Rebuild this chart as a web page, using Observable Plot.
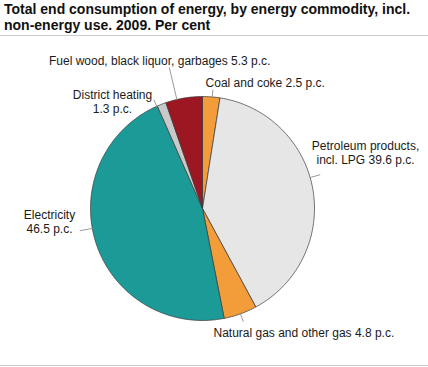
<!DOCTYPE html>
<html>
<head>
<meta charset="utf-8">
<script src="https://cdn.jsdelivr.net/npm/d3@7"></script>
<script src="https://cdn.jsdelivr.net/npm/@observablehq/plot@0.6"></script>
<style>
  body { margin: 0; background: #fff; }
  #wrap { width: 428px; }
  #title { font: bold 14px "Liberation Sans", Arial, sans-serif; line-height: 16px; color: #111;
           padding: 1px 0 2px 4px; height: 32px; border-bottom: 1px solid #ccc; }
  #chart svg { display: block; }
  #foot { border-top: 1px solid #ccc; width: 428px; }
</style>
</head>
<body>
<div id="wrap">
  <div id="title">Total end consumption of energy, by energy commodity, incl.<br>non-energy use. 2009. Per cent</div>
  <div id="chart"></div>
  <div id="foot"></div>
</div>
<script>
// ---- data ----
const categories = ["Coal and coke", "Petroleum products, incl. LPG", "Natural gas and other gas", "Electricity", "District heating", "Fuel wood, black liquor, garbages"];
const values = [2.5, 39.6, 4.8, 46.5, 1.3, 5.3];
const labelTexts = ["Coal and coke 2.5 p.c.", "Petroleum products,\nincl. LPG 39.6 p.c.", "Natural gas and other gas 4.8 p.c.", "Electricity\n46.5 p.c.", "District heating\n1.3 p.c.", "Fuel wood, black liquor, garbages 5.3 p.c."];

// ---- style / layout ----
const colors = ["#f39c3a", "#e6e6e6", "#f39c3a", "#1b9a98", "#c9c9c9", "#9c1722"];
// per label: angle nudge (deg), leader outer radius, text anchor, dx, dy
const labelLayout = [
  {nudge: 0.5, r: 1.06, anchor: "start", dx: -7.3, dy: -7.6},
  {nudge: -6.3, r: 1.09, anchor: "middle", dx: 45.7, dy: -22.7},
  {nudge: 0, r: 1.07, anchor: "start", dx: -29.6, dy: 11.5},
  {nudge: 7.2, r: 1.11, anchor: "middle", dx: -30.7, dy: -9.5},
  {nudge: -2.7, r: 1.06, anchor: "middle", dx: -41.5, dy: 1.1},
  {nudge: -3.7, r: 1.29, anchor: "middle", dx: -9.7, dy: -7.6}
];

// ---- geometry from values ----
const total = d3.sum(values);
const toRad = d => d * Math.PI / 180;
const slices = [];
const leaders = [];
const labels = [];
let acc = 0;
categories.forEach((name, i) => {
  const a0 = acc / total * 360;
  acc += values[i];
  const a1 = acc / total * 360;
  const n = Math.max(2, Math.ceil((a1 - a0) / 1));
  slices.push({name, x: 0, y: 0});
  for (let k = 0; k <= n; k++) {
    const a = toRad(a0 + (a1 - a0) * k / n);
    slices.push({name, x: Math.sin(a), y: Math.cos(a)});
  }
  slices.push({name, x: 0, y: 0});
  const L = labelLayout[i];
  const am = toRad((a0 + a1) / 2 + L.nudge);
  leaders.push({id: i, x: Math.sin(am), y: Math.cos(am)});
  leaders.push({id: i, x: L.r * Math.sin(am), y: L.r * Math.cos(am)});
  labels.push({text: labelTexts[i], x: L.r * Math.sin(am), y: L.r * Math.cos(am), ...L});
});

const textMarks = labels.map(l => Plot.text([l], {
  x: "x", y: "y", text: "text", textAnchor: l.anchor, dx: l.dx, dy: l.dy,
  lineAnchor: "middle", lineHeight: 1.2, fontSize: 12, fill: "#1a1a1a"
}));

const chart = Plot.plot({
  width: 428,
  height: 329,
  margin: 0,
  x: {domain: [-1, 1], range: [90, 314], axis: null},
  y: {domain: [-1, 1], range: [284, 60], axis: null},
  color: {domain: categories, range: colors},
  style: {fontFamily: "'Liberation Sans', Arial, sans-serif", fontSize: "12px", background: "white"},
  marks: [
    Plot.line(slices, {x: "x", y: "y", z: "name", fill: "name", stroke: "#3a3a3a", strokeWidth: 0.7, strokeLinejoin: "round"}),
    Plot.line(leaders, {x: "x", y: "y", z: "id", stroke: "#9a9a9a", strokeWidth: 1}),
    ...textMarks
  ]
});
document.getElementById("chart").appendChild(chart);
</script>
</body>
</html>
